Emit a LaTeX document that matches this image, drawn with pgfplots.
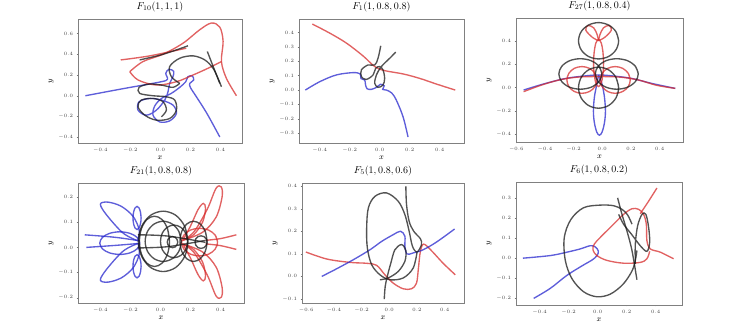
\documentclass[border=0pt]{standalone}
\usepackage{pgfplots}
\pgfplotsset{compat=1.18}
\definecolor{cb}{RGB}{40,40,205}
\definecolor{cr}{RGB}{215,45,45}
\definecolor{ck}{RGB}{25,25,25}
\pgfplotsset{
 panel/.style={
  scale only axis,
  axis line style={black!50, line width=0.7pt},
  tick align=outside, major tick length=1.5pt,
  tick style={black!55, line width=0.4pt},
  tick pos=left,
  tick label style={font=\fontsize{4}{5}\selectfont, black!75},
  label style={font=\fontsize{8}{9}\selectfont},
  title style={font=\fontsize{10}{11}\selectfont, at={(0.5,1)}, anchor=south, inner sep=1.2pt},
  xticklabel style={/pgf/number format/.cd, fixed, fixed zerofill, precision=1},
  yticklabel style={/pgf/number format/.cd, fixed, fixed zerofill, precision=1},
  xlabel={$x$}, ylabel={$y$},
  xlabel style={yshift=3pt}, ylabel style={yshift=-2pt},
  every axis plot/.append style={line width=1.35pt, smooth, tension=0.55, opacity=0.75, no marks},
 },
}
\begin{document}
\begin{tikzpicture}
\useasboundingbox (0,0) rectangle (742pt,332pt);
% ---------------- Panel 1
\begin{axis}[panel, at={(78pt,189pt)}, anchor=south west, width=164pt, height=124pt,
 title={$F_{10}(1,1,1)$}, xmin=-0.549, xmax=0.544, ymin=-0.455, ymax=0.739,
 xtick={-0.4,-0.2,0,0.2,0.4}, ytick={-0.4,-0.2,0,0.2,0.4,0.6}]
\addplot[cb] coordinates {(-0.5,0) (-0.249,0.068) (-0.004,0.132) (0.047,0.158) (0.036,0.216) (0.058,0.255) (0.089,0.235) (0.084,0.184) (0.062,0.119) (0.051,0.039) (0.029,-0.042) (-0.027,-0.139) (-0.093,-0.187) (-0.149,-0.139) (-0.142,-0.058) (-0.071,-0.026) (0.007,-0.042) (0.084,-0.09) (0.107,-0.171) (0.062,-0.242) (-0.004,-0.252) (-0.049,-0.187) (-0.038,-0.1) (0.007,-0.026) (0.073,0.023) (0.129,0.081) (0.169,0.135) (0.184,0.184) (0.213,0.19) (0.222,0.152) (0.196,0.119) (0.2,0.08) (0.24,-0.01) (0.31,-0.17) (0.396,-0.397)};
\addplot[cr] coordinates {(-0.264,0.345) (-0.071,0.384) (0.173,0.458)};
\addplot[cr] coordinates {(-0.204,0.232) (-0.116,0.329) (0.018,0.4) (0.151,0.506) (0.262,0.635) (0.34,0.7) (0.396,0.661) (0.418,0.523) (0.407,0.329) (0.44,0.168) (0.507,0)};
\addplot[cr] coordinates {(-0.204,0.232) (-0.149,0.152) (-0.027,0.103) (0.107,0.135) (0.218,0.2) (0.318,0.265) (0.407,0.329)};
\addplot[ck] coordinates {(-0.138,0.345) (0.02,0.40) (0.184,0.481)};
\addplot[ck] coordinates {(0.313,0.426) (0.355,0.27) (0.396,0.119)};
\addplot[ck] coordinates {(0.129,0.119) (0.073,0.184) (0.062,0.281) (0.129,0.361) (0.218,0.384) (0.296,0.345) (0.351,0.265) (0.384,0.168) (0.407,0.087)};
\addplot[ck] coordinates {(0.129,0.119) (0.084,0.081) (0.018,0.1) (-0.071,0.113) (-0.142,0.081) (-0.138,0.023) (-0.049,0) (0.04,-0.01) (0.096,-0.042) (0.107,-0.139) (0.062,-0.219) (-0.027,-0.235) (-0.104,-0.187) (-0.149,-0.106) (-0.127,-0.042) (-0.049,-0.026) (0.018,-0.058) (0.04,-0.139) (0.007,-0.203)};
\end{axis}
% ---------------- Panel 2
\begin{axis}[panel, at={(299pt,189pt)}, anchor=south west, width=165pt, height=124pt,
 title={$F_{1}(1,0.8,0.8)$}, xmin=-0.538, xmax=0.562, ymin=-0.367, ymax=0.493,
 xtick={-0.4,-0.2,0,0.2,0.4}, ytick={-0.3,-0.2,-0.1,0,0.1,0.2,0.3,0.4}]
\addplot[cr] coordinates {(-0.449,0.458) (-0.333,0.395) (-0.222,0.326) (-0.111,0.237) (-0.033,0.163) (0.033,0.135) (0.156,0.112) (0.267,0.081) (0.378,0.042) (0.504,0)};
\addplot[cb] coordinates {(-0.496,0) (-0.4,0.058) (-0.289,0.105) (-0.178,0.121) (-0.13,0.112) (-0.125,0.08) (-0.1,0.07) (-0.095,0.04) (-0.085,0.01) (-0.056,0.005) (-0.02,0.02) (0.005,0.04) (0.03,0.03) (0.02,0.005) (0.045,0) (0.08,-0.02) (0.111,-0.07) (0.156,-0.186) (0.189,-0.326)};
\addplot[ck] coordinates {(0.007,0.307) (-0.011,0.221) (-0.033,0.174) (-0.078,0.174) (-0.122,0.14) (-0.122,0.093) (-0.089,0.074) (-0.044,0.105) (-0.027,0.151) (0,0.163) (0.022,0.14) (0.033,0.081) (0.022,0.035) (-0.011,0.019) (-0.033,0.047) (-0.022,0.105) (0.011,0.163) (0.067,0.221) (0.107,0.263)};
\end{axis}
% ---------------- Panel 3
\begin{axis}[panel, at={(516pt,190pt)}, anchor=south west, width=167pt, height=124pt,
 title={$F_{27}(1,0.8,0.4)$}, xmin=-0.602, xmax=0.563, ymin=-0.463, ymax=0.594,
 xtick={-0.6,-0.4,-0.2,0,0.2,0.4}, ytick={-0.4,-0.2,0,0.2,0.4}]
\addplot[cb] coordinates {(-0.549,-0.02) (-0.4,0.035) (-0.25,0.08) (-0.1,0.103) (-0.026,0.108) (0.05,0.103) (0.2,0.08) (0.35,0.035) (0.509,-0.006)};
\addplot[cb] coordinates {(-0.026,0.108) (-0.038,0.03) (-0.055,-0.08) (-0.062,-0.2) (-0.055,-0.3) (-0.038,-0.38) (-0.02,-0.405) (-0.002,-0.38) (0.015,-0.3) (0.022,-0.2) (0.015,-0.08) (-0.002,0.03) (-0.026,0.108)};
\addplot[cr] coordinates {(-0.549,-0.034) (-0.43,0.02) (-0.32,0.06) (-0.24,0.08) (-0.15,0.092) (-0.026,0.095) (0.1,0.092) (0.19,0.08) (0.27,0.06) (0.38,0.02) (0.509,-0.006)};
\addplot[cr] coordinates {(-0.037,0.066) (-0.051,0.123) (-0.09,0.165) (-0.142,0.18) (-0.195,0.165) (-0.233,0.123) (-0.247,0.066) (-0.233,0.009) (-0.195,-0.033) (-0.142,-0.048) (-0.09,-0.033) (-0.051,0.009) (-0.037,0.066) (-0.051,0.123)};
\addplot[cr] coordinates {(0.195,0.066) (0.181,0.123) (0.142,0.165) (0.09,0.18) (0.038,0.165) (-0.001,0.123) (-0.015,0.066) (-0.001,0.009) (0.038,-0.033) (0.09,-0.048) (0.142,-0.033) (0.181,0.009) (0.195,0.066) (0.181,0.123)};
\addplot[cr] coordinates {(0.009,0.21) (0.004,0.31) (-0.008,0.383) (-0.026,0.41) (-0.044,0.383) (-0.056,0.31) (-0.061,0.21) (-0.056,0.11) (-0.044,0.037) (-0.026,0.01) (-0.008,0.037) (0.004,0.11) (0.009,0.21) (0.004,0.31)};
\addplot[cr] coordinates {(-0.026,0.40) (-0.07,0.43) (-0.115,0.49) (-0.10,0.53) (-0.06,0.51) (-0.035,0.45) (-0.026,0.40)};
\addplot[cr] coordinates {(-0.026,0.40) (0.018,0.43) (0.063,0.49) (0.048,0.53) (0.008,0.51) (-0.017,0.45) (-0.026,0.40)};
\addplot[ck] coordinates {(0.114,0.40) (0.095,0.478) (0.044,0.534) (-0.026,0.555) (-0.096,0.534) (-0.147,0.478) (-0.166,0.40) (-0.147,0.322) (-0.096,0.266) (-0.026,0.245) (0.044,0.266) (0.095,0.322) (0.114,0.40) (0.095,0.478)};
\addplot[ck] coordinates {(-0.003,0.117) (-0.023,0.182) (-0.078,0.23) (-0.153,0.247) (-0.228,0.23) (-0.283,0.182) (-0.303,0.117) (-0.283,0.052) (-0.228,0.004) (-0.153,-0.013) (-0.078,0.004) (-0.023,0.052) (-0.003,0.117) (-0.023,0.182)};
\addplot[ck] coordinates {(0.251,0.117) (0.231,0.182) (0.176,0.23) (0.101,0.247) (0.026,0.23) (-0.029,0.182) (-0.049,0.117) (-0.029,0.052) (0.026,0.004) (0.101,-0.013) (0.176,0.004) (0.231,0.052) (0.251,0.117) (0.231,0.182)};
\addplot[ck] coordinates {(0.114,0) (0.095,0.088) (0.044,0.152) (-0.026,0.175) (-0.096,0.152) (-0.147,0.088) (-0.166,0) (-0.147,-0.088) (-0.096,-0.152) (-0.026,-0.175) (0.044,-0.152) (0.095,-0.088) (0.114,0) (0.095,0.088)};
\end{axis}
% ---------------- Panel 4
\begin{axis}[panel, at={(78pt,29pt)}, anchor=south west, width=166pt, height=120pt,
 title={$F_{21}(1,0.8,0.8)$}, xmin=-0.549, xmax=0.556, ymin=-0.221, ymax=0.256,
 xtick={-0.4,-0.2,0,0.2,0.4}, ytick={-0.2,-0.1,0,0.1,0.2}]
\addplot[cb] coordinates {(-0.149,0.026) (-0.249,0.057) (-0.36,0.13) (-0.4,0.172) (-0.349,0.18) (-0.26,0.163) (-0.182,0.123) (-0.142,0.07) (-0.149,0.026)};
\addplot[cb] coordinates {(-0.149,0.016) (-0.249,-0.015) (-0.36,-0.088) (-0.4,-0.13) (-0.349,-0.138) (-0.26,-0.121) (-0.182,-0.081) (-0.142,-0.028) (-0.149,0.016)};
\addplot[cb] coordinates {(-0.138,0.017) (-0.156,0.04) (-0.204,0.056) (-0.271,0.062) (-0.338,0.056) (-0.386,0.04) (-0.404,0.017) (-0.386,-0.006) (-0.338,-0.022) (-0.271,-0.028) (-0.204,-0.022) (-0.156,-0.006) (-0.138,0.017) (-0.156,0.04)};
\addplot[cb] coordinates {(-0.129,0.117) (-0.133,0.14) (-0.143,0.157) (-0.156,0.163) (-0.169,0.157) (-0.179,0.14) (-0.183,0.117) (-0.179,0.094) (-0.169,0.077) (-0.156,0.071) (-0.143,0.077) (-0.133,0.094) (-0.129,0.117) (-0.133,0.14)};
\addplot[cb] coordinates {(-0.129,-0.075) (-0.133,-0.098) (-0.143,-0.115) (-0.156,-0.121) (-0.169,-0.115) (-0.179,-0.098) (-0.183,-0.075) (-0.179,-0.052) (-0.169,-0.035) (-0.156,-0.029) (-0.143,-0.035) (-0.133,-0.052) (-0.129,-0.075) (-0.133,-0.098)};
\addplot[cb] coordinates {(-0.504,0.05) (-0.3,0.04) (-0.138,0.026)};
\addplot[cb] coordinates {(-0.493,0.0) (-0.3,0.008) (-0.138,0.016)};
\addplot[cr] coordinates {(0.14,0.026) (0.22,0.06) (0.31,0.15) (0.37,0.235) (0.405,0.24) (0.41,0.2) (0.37,0.12) (0.28,0.06) (0.14,0.026)};
\addplot[cr] coordinates {(0.14,0.016) (0.22,-0.018) (0.31,-0.108) (0.37,-0.193) (0.405,-0.198) (0.41,-0.158) (0.37,-0.078) (0.28,-0.018) (0.14,0.016)};
\addplot[cr] coordinates {(0.15,0.03) (0.2,0.085) (0.25,0.15) (0.285,0.175) (0.3,0.155) (0.28,0.1) (0.22,0.05) (0.15,0.03)};
\addplot[cr] coordinates {(0.15,0.012) (0.2,-0.043) (0.25,-0.108) (0.285,-0.133) (0.3,-0.113) (0.28,-0.058) (0.22,-0.008) (0.15,0.012)};
\addplot[cr] coordinates {(0.38,0.021) (0.364,0.049) (0.32,0.069) (0.26,0.076) (0.2,0.069) (0.156,0.049) (0.14,0.021) (0.156,-0.007) (0.2,-0.027) (0.26,-0.034) (0.32,-0.027) (0.364,-0.007) (0.38,0.021) (0.364,0.049)};
\addplot[cr] coordinates {(0.3,0.028) (0.4,0.035) (0.505,0.05)};
\addplot[cr] coordinates {(0.3,0.014) (0.4,0.007) (0.505,-0.008)};
\addplot[ck] coordinates {(0.183,0.024) (0.161,0.084) (0.101,0.128) (0.018,0.144) (-0.065,0.128) (-0.125,0.084) (-0.147,0.024) (-0.125,-0.036) (-0.065,-0.08) (0.018,-0.096) (0.101,-0.08) (0.161,-0.036) (0.183,0.024) (0.161,0.084)};
\addplot[ck] coordinates {(0.138,0.024) (0.122,0.064) (0.078,0.093) (0.018,0.104) (-0.042,0.093) (-0.086,0.064) (-0.102,0.024) (-0.086,-0.016) (-0.042,-0.045) (0.018,-0.056) (0.078,-0.045) (0.122,-0.016) (0.138,0.024) (0.122,0.064)};
\addplot[ck] coordinates {(0.06,0.024) (0.047,0.074) (0.01,0.111) (-0.04,0.124) (-0.09,0.111) (-0.127,0.074) (-0.14,0.024) (-0.127,-0.026) (-0.09,-0.063) (-0.04,-0.076) (0.01,-0.063) (0.047,-0.026) (0.06,0.024) (0.047,0.074)};
\addplot[ck] coordinates {(0.18,0.024) (0.168,0.057) (0.135,0.08) (0.09,0.089) (0.045,0.08) (0.012,0.057) (0.0,0.024) (0.012,-0.009) (0.045,-0.032) (0.09,-0.041) (0.135,-0.032) (0.168,-0.009) (0.18,0.024) (0.168,0.057)};
\addplot[ck] coordinates {(0.115,0.021) (0.11,0.032) (0.098,0.04) (0.08,0.043) (0.063,0.04) (0.05,0.032) (0.045,0.021) (0.05,0.01) (0.063,0.002) (0.08,-0.001) (0.098,0.002) (0.11,0.01) (0.115,0.021) (0.11,0.032)};
\addplot[ck] coordinates {(0.31,0.021) (0.305,0.034) (0.29,0.043) (0.27,0.046) (0.25,0.043) (0.235,0.034) (0.23,0.021) (0.235,0.009) (0.25,-0.001) (0.27,-0.004) (0.29,-0.001) (0.305,0.009) (0.31,0.021) (0.305,0.034)};
\addplot[ck] coordinates {(0.31,0.024) (0.298,0.064) (0.265,0.093) (0.22,0.104) (0.175,0.093) (0.142,0.064) (0.13,0.024) (0.142,-0.016) (0.175,-0.045) (0.22,-0.056) (0.265,-0.045) (0.298,-0.016) (0.31,0.024) (0.298,0.064)};
\addplot[ck] coordinates {(-0.15,0.05) (0.05,0.045) (0.3,0.02)};
\addplot[ck] coordinates {(-0.15,-0.002) (0.05,0.003) (0.3,0.028)};
\end{axis}
% ---------------- Panel 5
\begin{axis}[panel, at={(302pt,29pt)}, anchor=south west, width=162pt, height=120pt,
 title={$F_{5}(1,0.8,0.6)$}, xmin=-0.63, xmax=0.54, ymin=-0.118, ymax=0.414,
 xtick={-0.6,-0.4,-0.2,0,0.2,0.4}, ytick={-0.1,0,0.1,0.2,0.3,0.4}]
\addplot[cr] coordinates {(-0.602,0.108) (-0.451,0.077) (-0.283,0.062) (-0.163,0.058) (-0.091,0.049) (-0.031,0.007) (0.029,-0.03) (0.101,-0.055) (0.161,-0.055) (0.197,-0.03) (0.211,0.037) (0.225,0.111) (0.249,0.143) (0.305,0.114) (0.388,0.059) (0.477,0.007)};
\addplot[cb] coordinates {(-0.487,0) (-0.379,0.034) (-0.259,0.074) (-0.139,0.118) (-0.055,0.155) (0.029,0.185) (0.082,0.2) (0.113,0.178) (0.113,0.133) (0.129,0.099) (0.173,0.104) (0.245,0.118) (0.341,0.152) (0.472,0.21)};
\addplot[ck] coordinates {(0.12,0.399) (0.125,0.318) (0.144,0.244) (0.177,0.2) (0.225,0.167) (0.233,0.141) (0.201,0.108) (0.168,0.133) (0.144,0.2) (0.113,0.274) (0.065,0.333) (-0.019,0.37) (-0.103,0.355) (-0.151,0.303) (-0.163,0.214) (-0.158,0.126) (-0.127,0.052) (-0.067,0.007) (0.005,-0.015) (0.101,-0.007) (0.173,0.037) (0.201,0.108)};
\addplot[ck] coordinates {(-0.036,-0.101) (-0.029,-0.044) (-0.014,0) (0.012,0.06) (0.041,0.118) (0.089,0.141) (0.12,0.114) (0.113,0.067) (0.065,0.022) (-0.007,-0.007) (-0.067,-0.015)};
\end{axis}
% ---------------- Panel 6
\begin{axis}[panel, at={(516pt,27pt)}, anchor=south west, width=166pt, height=123pt,
 title={$F_{6}(1,0.8,0.2)$}, xmin=-0.563, xmax=0.582, ymin=-0.233, ymax=0.379,
 xtick={-0.4,-0.2,0,0.2,0.4}, ytick={-0.2,-0.1,0,0.1,0.2,0.3}]
\addplot[cb] coordinates {(-0.515,0) (-0.326,0.013) (-0.211,0.03) (-0.12,0.046) (-0.051,0.062) (-0.016,0.056) (0.005,0.035) (-0.005,0.012) (-0.04,-0.01) (-0.1,-0.035) (-0.211,-0.085) (-0.326,-0.15) (-0.441,-0.2)};
\addplot[cr] coordinates {(0.524,-0.003) (0.432,0.03) (0.363,0.046) (0.34,0.087) (0.336,0.169) (0.317,0.218) (0.283,0.243) (0.237,0.246) (0.179,0.218) (0.099,0.161) (0.018,0.103) (-0.023,0.07) (-0.032,0.041) (-0.005,0.013) (0.064,-0.011) (0.179,-0.025) (0.294,-0.021) (0.34,-0.003) (0.359,0.034)};
\addplot[cr] coordinates {(0.294,0.221) (0.352,0.284) (0.409,0.349)};
\addplot[ck] coordinates {(0.237,0.169) (0.207,0.215) (0.168,0.243) (0.11,0.261) (0.018,0.264) (-0.097,0.251) (-0.184,0.193) (-0.23,0.103) (-0.223,-0.011) (-0.177,-0.102) (-0.097,-0.167) (-0.005,-0.192) (0.087,-0.179) (0.175,-0.13) (0.237,-0.064) (0.26,-0.011) (0.271,0.038)};
\addplot[ck] coordinates {(0.138,0.3) (0.168,0.218) (0.202,0.136) (0.237,0.038) (0.271,-0.107)};
\addplot[ck] coordinates {(0.26,-0.028) (0.26,0.07) (0.276,0.161) (0.306,0.218) (0.333,0.218) (0.352,0.152) (0.359,0.079) (0.34,0.034) (0.294,0.062) (0.237,0.116) (0.179,0.169) (0.145,0.218)};
\end{axis}
\end{tikzpicture}
\end{document}
